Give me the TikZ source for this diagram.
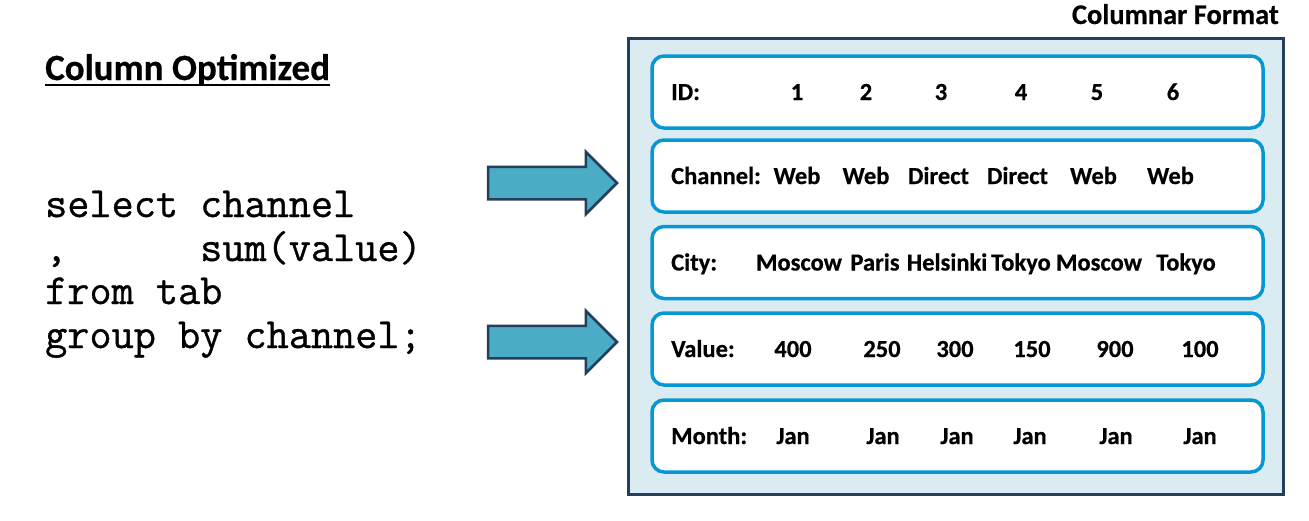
\documentclass[tikz,border=0pt]{standalone}
\usepackage{fontspec}
\setmainfont{Carlito}[BoldFeatures={FakeBold=0.5}]
\newfontfamily\codefont{Latin Modern Mono}[FakeBold=0.8]
\usetikzlibrary{shapes.arrows}
\definecolor{navy}{HTML}{243F5C}
\definecolor{panel}{HTML}{DAEBF2}
\definecolor{rowline}{HTML}{0597D6}
\definecolor{arrowfill}{HTML}{4BACC6}
\tikzset{
  panelbox/.style={draw=navy, fill=panel, line width=3pt, minimum width=655pt, minimum height=456pt, inner sep=0pt},
  rowbox/.style={draw=rowline, fill=white, line width=3.5pt, rounded corners=12pt, minimum width=611pt, minimum height=72pt, inner sep=0pt},
  rowlabel/.style={anchor=base west, inner sep=0pt, font=\fontsize{24.5}{28}\selectfont\bfseries},
  rowval/.style={anchor=base, inner sep=0pt, font=\fontsize{24.5}{28}\selectfont\bfseries},
  codeline/.style={anchor=base west, inner sep=0pt, font=\fontsize{43}{48}\selectfont\codefont},
  blockarrow/.style={single arrow, draw=navy, fill=arrowfill, line width=2.5pt, minimum height=129pt, single arrow head extend=15pt, inner sep=15pt, outer sep=0pt, anchor=tail}
}

\begin{document}
\begin{tikzpicture}[x=1pt, y=-1pt]
  \useasboundingbox (0,0) rectangle (1309,520);

  % left side
  \node[anchor=base west, inner sep=0pt, font=\fontsize{37}{42}\selectfont\bfseries] (title) at (45,80) {Column Optimized};
  \draw[line width=2pt] ([yshift=-5pt]title.base west) -- ([yshift=-5pt]title.base east);

  \node[codeline] (q1) at (45,217) {select channel};
  \node[codeline] (q2) at (45,261) {,\ \ \ \ \ \ sum(value)};
  \node[codeline] (q3) at (45,304) {from tab};
  \node[codeline] (q4) at (45,348) {group by channel;};

  \node[blockarrow] (a1) at (488,183) {};
  \node[blockarrow] (a2) at (488,342) {};

  % columnar store
  \node[anchor=base east, inner sep=0pt, font=\fontsize{28.5}{32}\selectfont\bfseries] (fmt) at (1279,24) {Columnar Format};
  \node[panelbox] (store) at (955.5,266) {};

  \node[rowbox] (r1) at (957.5,92) {};
  \node[rowbox] (r2) at (957.5,176) {};
  \node[rowbox] (r3) at (957.5,262.5) {};
  \node[rowbox] (r4) at (957.5,349) {};
  \node[rowbox] (r5) at (957.5,436) {};

  \node[rowlabel] (l1) at (671,100) {ID:};
  \node[rowval] (id1) at (797,100) {1};
  \node[rowval] (id2) at (866,100) {2};
  \node[rowval] (id3) at (941,100) {3};
  \node[rowval] (id4) at (1021,100) {4};
  \node[rowval] (id5) at (1097,100) {5};
  \node[rowval] (id6) at (1173,100) {6};

  \node[rowlabel] (l2) at (671,184) {Channel:};
  \node[rowval] (ch1) at (797,184) {Web};
  \node[rowval] (ch2) at (866,184) {Web};
  \node[rowval] (ch3) at (938.5,184) {Direct};
  \node[rowval] (ch4) at (1017.5,184) {Direct};
  \node[rowval] (ch5) at (1093.5,184) {Web};
  \node[rowval] (ch6) at (1170.5,184) {Web};

  \node[rowlabel] (l3) at (671,270.5) {City:};
  \node[rowval] (ci1) at (799,270.5) {Moscow};
  \node[rowval] (ci2) at (875,270.5) {Paris};
  \node[rowval] (ci3) at (947,270.5) {Helsinki};
  \node[rowval] (ci4) at (1021,270.5) {Tokyo};
  \node[rowval] (ci5) at (1099,270.5) {Moscow};
  \node[rowval] (ci6) at (1186,270.5) {Tokyo};

  \node[rowlabel] (l4) at (671,357) {Value:};
  \node[rowval] (v1) at (793,357) {400};
  \node[rowval] (v2) at (882,357) {250};
  \node[rowval] (v3) at (955,357) {300};
  \node[rowval] (v4) at (1032,357) {150};
  \node[rowval] (v5) at (1115,357) {900};
  \node[rowval] (v6) at (1200,357) {100};

  \node[rowlabel] (l5) at (671,444) {Month:};
  \node[rowval] (m1) at (793,444) {Jan};
  \node[rowval] (m2) at (883,444) {Jan};
  \node[rowval] (m3) at (957,444) {Jan};
  \node[rowval] (m4) at (1030,444) {Jan};
  \node[rowval] (m5) at (1116,444) {Jan};
  \node[rowval] (m6) at (1200,444) {Jan};
\end{tikzpicture}
\end{document}
